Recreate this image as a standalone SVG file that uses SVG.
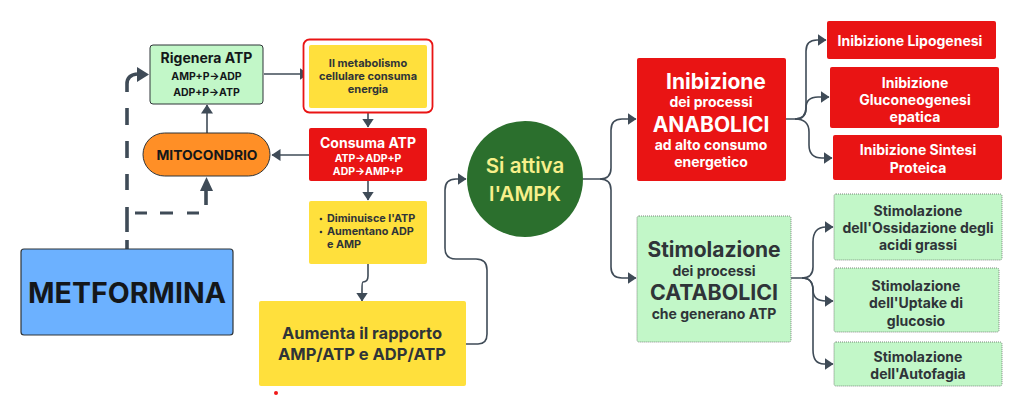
<svg xmlns="http://www.w3.org/2000/svg" width="1024" height="417" viewBox="0 0 1024 417">
<style>
text{font-family:Inter,"Liberation Sans",sans-serif;font-weight:700;text-anchor:middle}
.d{fill:#2f3438}.w{fill:#fff}
.k{fill:#14171a}
.y{fill:#ffe03c}.r{fill:#e91414}.g{fill:#c2f7c8}
.e{stroke:#5d6b60;stroke-width:.8;stroke-dasharray:1 1}
.c{fill:none;stroke:#3f4b57;stroke-width:1.6}
.t{fill:none;stroke:#3f4b57;stroke-width:3.6}
.h{fill:none;stroke:#3f4b57;stroke-width:2.8}
</style>
<defs>
<marker id="m" markerUnits="userSpaceOnUse" markerWidth="10" markerHeight="12" refX="8.5" refY="6" orient="auto"><path d="M0 0L9 6L0 12Z" fill="#3f4b57"/></marker>
</defs>
<g id="connectors">
<path class="t" d="M127 250V240M127 232V207M127 190V174M127 158V141M127 125V108M127 92V84Q127 75 137 74"/>
<path d="M137 67L149 74.500L137 82Z" fill="#3f4b57"/>
<path class="h" d="M135 213H147M160 213H173M187 213H199"/>
<path class="t" d="M206 205V189"/>
<path d="M200 191L206.500 177L213 191Z" fill="#3f4b57"/>
<path class="c" d="M207 133V105" marker-end="url(#m)"/>
<path class="c" d="M264 74H308" marker-end="url(#m)"/>
<path class="c" d="M368 109V127" marker-end="url(#m)"/>
<path class="c" d="M309 155H272" marker-end="url(#m)"/>
<path class="c" d="M368 181V200" marker-end="url(#m)"/>
<path class="c" d="M368 264V276Q368 282 363 282Q362 282 362 290V301" marker-end="url(#m)"/>
<path class="c" d="M466 344H478Q487 344 487 334V270Q487 259 476 259H456Q445 259 445 248V190Q445 179 456 179H466" marker-end="url(#m)"/>
<path class="c" d="M583 179H600Q611 179 611 168V130Q611 119 622 119H636" marker-end="url(#m)"/>
<path class="c" d="M600 179Q611 179 611 190V267Q611 278 622 278H636" marker-end="url(#m)"/>
<path class="c" d="M786 119H795Q806 119 806 108V51Q806 40 817 40H826" marker-end="url(#m)"/>
<path class="c" d="M795 119Q806 119 806 108Q806 97 818 97H829" marker-end="url(#m)"/>
<path class="c" d="M795 119Q809 119 809 132V145Q809 158 822 158H832" marker-end="url(#m)"/>
<path class="c" d="M791 278H802Q813 278 813 267V242Q813 227 826 227H833" marker-end="url(#m)"/>
<path class="c" d="M802 278Q813 278 813 290Q813 301 826 301H833" marker-end="url(#m)"/>
<path class="c" d="M802 278Q813 278 813 290V350Q813 364 824 364H833" marker-end="url(#m)"/>
</g>
<g id="metformina"><rect x="21" y="249" width="212" height="86" rx="3" fill="#6cb1ff" stroke="#2f3438" stroke-width="1.2"/><text class="k" x="127" y="303" font-size="28.500">METFORMINA</text></g>
<g id="rigenera"><rect x="150" y="45" width="113" height="59" rx="3" class="g" stroke="#2f3438" stroke-width="1"/><text class="k" x="206.500" y="63" font-size="14">Rigenera ATP</text><text class="k" x="206.500" y="80" font-size="10.500">AMP+P→ADP</text><text class="k" x="206.500" y="96" font-size="10.500">ADP+P→ATP</text></g>
<g id="mitocondrio"><rect x="143" y="133" width="127" height="43" rx="21.500" fill="#ff8f26" stroke="#2f3438" stroke-width="1"/><text class="k" x="207" y="160" font-size="13.800">MITOCONDRIO</text></g>
<g id="metabolismo"><rect x="303.500" y="39.500" width="129" height="73" rx="6" fill="#fff" stroke="#e91414" stroke-width="1.800"/><rect x="309" y="45" width="118" height="63" rx="2" class="y"/><text class="d" x="368" y="67" font-size="11">Il metabolismo</text><text class="d" x="368" y="80" font-size="11">cellulare consuma</text><text class="d" x="368" y="93" font-size="11">energia</text></g>
<g id="consuma"><rect x="309" y="128" width="118" height="53" rx="2" class="r"/><text class="w" x="368" y="148" font-size="14">Consuma ATP</text><text class="w" x="368" y="162" font-size="10.500">ATP→ADP+P</text><text class="w" x="368" y="175" font-size="10.500">ADP→AMP+P</text></g>
<g id="diminuisce"><rect x="309" y="201" width="118" height="63" rx="2" class="y"/><circle cx="321" cy="219" r="1.300" class="d"/><circle cx="321" cy="232" r="1.300" class="d"/><text class="d" x="327" y="222" font-size="10.800" style="text-anchor:start">Diminuisce l'ATP</text><text class="d" x="327" y="235" font-size="10.800" style="text-anchor:start">Aumentano ADP</text><text class="d" x="327" y="248" font-size="10.800" style="text-anchor:start">e AMP</text></g>
<g id="aumenta"><rect x="259" y="301" width="207" height="85" rx="2" class="y"/><text class="d" x="362" y="339" font-size="16.500">Aumenta il rapporto</text><text class="d" x="362" y="360" font-size="16.500">AMP/ATP e ADP/ATP</text></g>
<g id="ampk"><circle cx="525" cy="179" r="58" fill="#2b6f2d"/><text x="525" y="173" font-size="20.500" style="fill:#f7f08a;font-weight:600">Si attiva</text><text x="525" y="201" font-size="20.500" style="fill:#f7f08a;font-weight:600">l'AMPK</text></g>
<g id="inibizione"><rect x="637" y="58" width="149" height="123" rx="2" class="r"/><text class="w" x="716" y="89" font-size="21">Inibizione</text><text class="w" x="711" y="107" font-size="14">dei processi</text><text class="w" x="711" y="132" font-size="21">ANABOLICI</text><text class="w" x="711" y="150" font-size="14">ad alto consumo</text><text class="w" x="711" y="167" font-size="14">energetico</text></g>
<g id="lipogenesi"><rect x="827" y="21" width="169" height="38" rx="2" class="r"/><text class="w" x="910" y="46" font-size="14">Inibizione Lipogenesi</text></g>
<g id="gluconeogenesi"><rect x="830" y="67" width="169" height="61" rx="2" class="r"/><text class="w" x="915" y="88" font-size="14">Inibizione</text><text class="w" x="915" y="105" font-size="14">Gluconeogenesi</text><text class="w" x="915" y="122" font-size="14">epatica</text></g>
<g id="sintesi"><rect x="833" y="135" width="169" height="45" rx="2" class="r"/><text class="w" x="918" y="155" font-size="14">Inibizione Sintesi</text><text class="w" x="918" y="173" font-size="14">Proteica</text></g>
<g id="stimolazione"><rect x="637" y="216" width="154" height="126" rx="2" class="g e"/><text class="d" x="714" y="257" font-size="21">Stimolazione</text><text class="d" x="714" y="276" font-size="14">dei processi</text><text class="d" x="714" y="300" font-size="21.400">CATABOLICI</text><text class="d" x="714" y="319" font-size="14">che generano ATP</text></g>
<g id="ossidazione"><rect x="834" y="194" width="168" height="66" rx="2" class="g e"/><text class="d" x="918" y="216" font-size="14">Stimolazione</text><text class="d" x="918" y="233" font-size="14">dell'Ossidazione degli</text><text class="d" x="918" y="250" font-size="14">acidi grassi</text></g>
<g id="uptake"><rect x="834" y="268" width="165" height="64" rx="2" class="g e"/><text class="d" x="916" y="291" font-size="14">Stimolazione</text><text class="d" x="916" y="308" font-size="14">dell'Uptake di</text><text class="d" x="916" y="326" font-size="14">glucosio</text></g>
<g id="autofagia"><rect x="834" y="342" width="168" height="44" rx="2" class="g e"/><text class="d" x="918" y="362" font-size="14">Stimolazione</text><text class="d" x="918" y="379" font-size="14">dell'Autofagia</text></g>
<circle cx="276" cy="393" r="2" fill="#f01818"/>
</svg>
